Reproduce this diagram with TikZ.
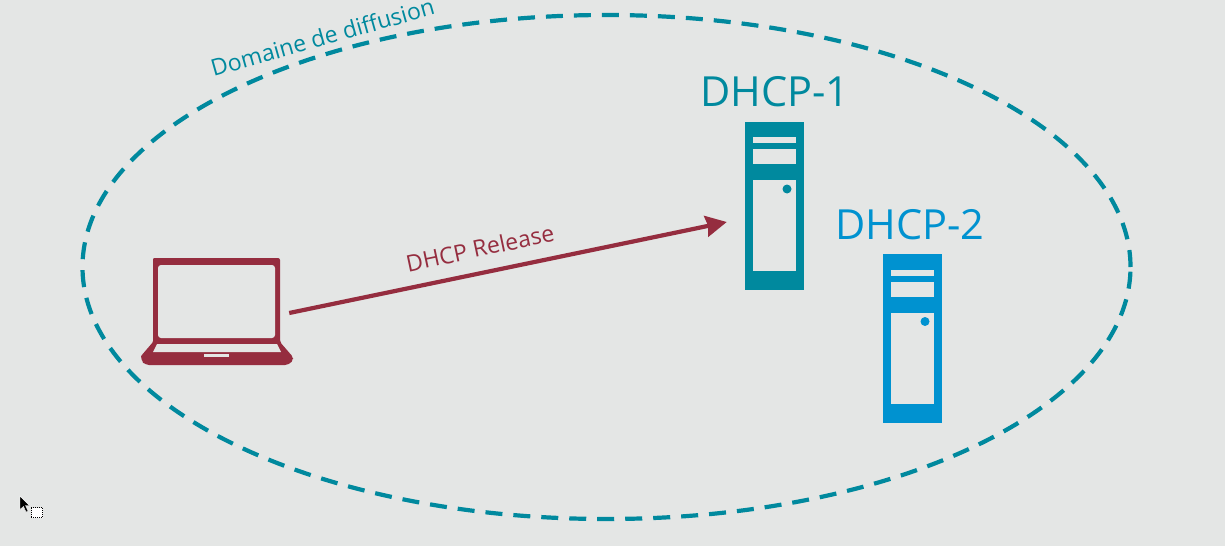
\documentclass[tikz,border=0pt]{standalone}
\usepackage{fontspec}
\setmainfont{Open Sans}
\usetikzlibrary{shapes.geometric, arrows.meta}
\definecolor{pagegray}{HTML}{E4E6E5}
\definecolor{domainteal}{HTML}{00899E}
\definecolor{servblue}{HTML}{0092D0}
\definecolor{clientred}{HTML}{952D3F}

\begin{document}
\begin{tikzpicture}[
            x=1pt, y=-1pt,
            bcastzone/.style={ellipse, draw=domainteal, line width=4.2pt, inner sep=0pt,
                        minimum width=1048pt, minimum height=504pt,
                        dash pattern=on 17pt off 11pt},
            slot/.style={rectangle, fill=pagegray, inner sep=0pt, minimum width=43pt},
            srvbody/.style={rectangle, inner sep=0pt, minimum width=59pt, minimum height=168.5pt},
            srvlabel/.style={font=\fontsize{41.5}{41.5}\selectfont, inner sep=0pt},
            smalllabel/.style={font=\fontsize{23}{23}\selectfont, inner sep=0pt},
            arrow/.style={-{Stealth[length=21pt, width=21pt, inset=2pt]}, line width=4.2pt, color=clientred}
        ]
            \fill[pagegray] (0,0) rectangle (1225,546);
            \useasboundingbox (0,0) rectangle (1225,546);

            \node[bcastzone] (bcast) at (606.5,267) {};
            \node[smalllabel, text=domainteal, rotate=15.8] (bcastlabel) at (322.5,37) {Domaine de diffusion};

            % the two servers
            \foreach \srv/\cx/\cy/\col/\txt/\dx in {dhcpa/774.5/206/domainteal/DHCP-1/0.5, dhcpb/912.5/338.5/servblue/DHCP-2/-2.5} {
                \node[srvbody, fill=\col] (\srv) at (\cx,\cy) {};
                \node[slot, minimum height=6pt] (\srv slota) at (\cx,\cy-66) {};
                \node[slot, minimum height=15pt] (\srv slotb) at (\cx,\cy-49.5) {};
                \node[slot, minimum height=91pt] (\srv door) at (\cx,\cy+19.5) {};
                \node[circle, fill=\col, inner sep=0pt, minimum size=9pt] (\srv led) at (\cx+12.5,\cy-17) {};
                \node[srvlabel, text=\col, above=14pt, xshift=\dx pt] (\srv label) at (\srv.north) {\txt};
            }

            % the laptop
            \fill[clientred, rounded corners=2pt] (153,258) -- (280,258) -- (280,342) -- (293,357)
                -- (293,360) [rounded corners=4pt] -- (289,365) -- (145,365) -- (141,360)
                [rounded corners=1pt] -- (141,356) -- (153,342) -- cycle;
            \node[rectangle, rounded corners=3pt, fill=pagegray, inner sep=0pt,
                  minimum width=117pt, minimum height=73pt] (screen) at (216.5,301.5) {};
            \fill[pagegray] (157,344) -- (277,344) -- (281,352) -- (153,352) -- cycle;
            \fill[pagegray] (204,354) rectangle (229,357);

            \coordinate (relstart) at ([shift={(14,11.5)}]screen.east);
            \coordinate (relend) at ([shift={(-18,16)}]dhcpa.west);
            \draw[arrow] (relstart) -- (relend);
            \node[smalllabel, text=clientred, rotate=12] (rellabel) at (480,248) {DHCP Release};

            % cursor left on the capture
            \fill[black, draw=white, line width=0.4pt] (20,496) -- (29.5,505.5) -- (25.5,505.5)
                -- (28,511) -- (26,512) -- (23.5,506.5) -- (20,509.5) -- cycle;
            \draw[black, fill=white, line width=1pt, dash pattern=on 1pt off 1pt] (31,507.5) rectangle (42.5,517.5);
        \end{tikzpicture}
\end{document}
